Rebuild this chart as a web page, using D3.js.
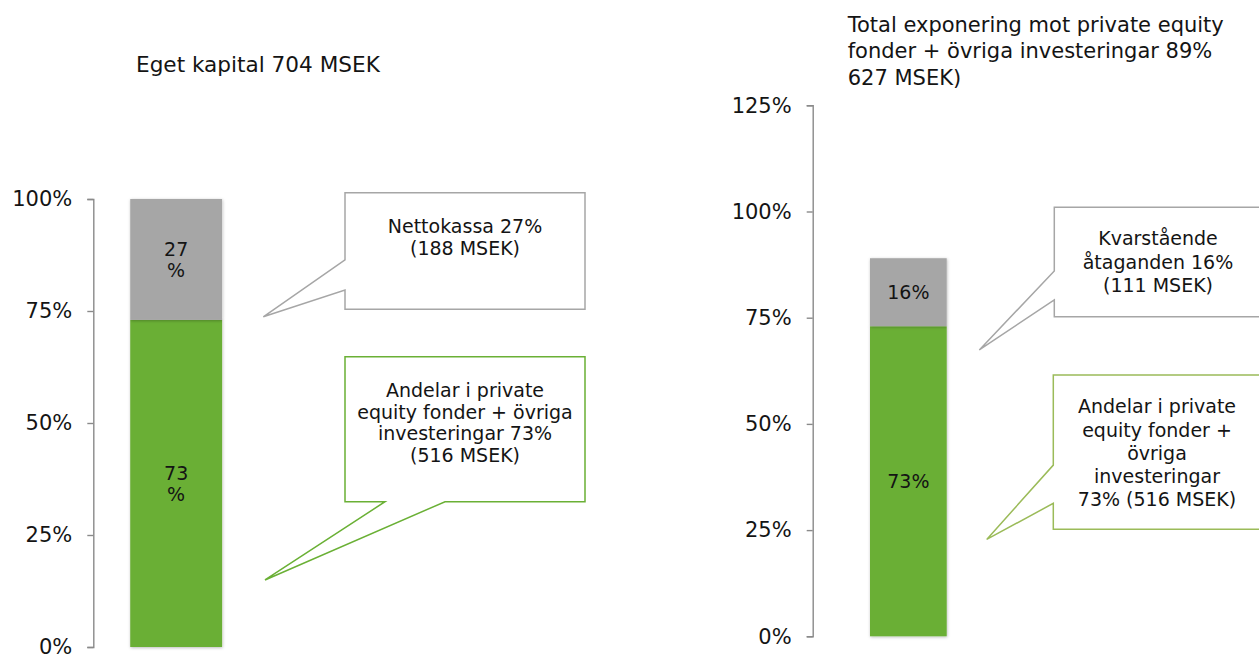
<!DOCTYPE html>
<html>
<head>
<meta charset="utf-8">
<script src="https://cdn.jsdelivr.net/npm/d3@7"></script>
<style>
  html, body { margin: 0; padding: 0; background: #ffffff; }
  svg { display: block; }
  text { font-family: "DejaVu Sans", Verdana, sans-serif; fill: #141414; }
</style>
</head>
<body>
<svg id="chart" width="1259" height="655"></svg>
<script>
// ---------------- DATA ----------------
const seriesKeys = ["investeringar", "ovrigt"];
const seriesColors = ["#6aaf35", "#a6a6a6"];

const leftCategory = ["Eget kapital"];
const leftValues = [0.73, 0.27];
const leftTicks = [0, 0.25, 0.5, 0.75, 1.0];
const leftTitle = ["Eget kapital 704 MSEK"];
const leftCalloutGray = ["Nettokassa 27%", "(188 MSEK)"];
const leftCalloutGreen = ["Andelar i private", "equity fonder + övriga", "investeringar 73%", "(516 MSEK)"];

const rightCategory = ["Total exponering"];
const rightValues = [0.73, 0.16];
const rightTicks = [0, 0.25, 0.5, 0.75, 1.0, 1.25];
const rightTitle = ["Total exponering mot private equity", "fonder + övriga investeringar 89%", "627 MSEK)"];
const rightCalloutGray = ["Kvarstående", "åtaganden 16%", "(111 MSEK)"];
const rightCalloutGreen = ["Andelar i private", "equity fonder +", "övriga", "investeringar", "73% (516 MSEK)"];

// ---------------- LAYOUT ----------------
const svg = d3.select("#chart");
const defs = svg.append("defs");
const f = defs.append("filter").attr("id", "shadow")
  .attr("x", "-20%").attr("y", "-10%").attr("width", "140%").attr("height", "120%");
f.append("feDropShadow").attr("dx", 0.5).attr("dy", 0.8).attr("stdDeviation", 1.4)
  .attr("flood-color", "#000").attr("flood-opacity", 0.28);

function drawChart(cfg) {
  const g = svg.append("g");
  const y = d3.scaleLinear().domain(cfg.yDomain).range([cfg.yBottom, cfg.yTop]);
  const x = d3.scaleBand().domain(cfg.category).range([cfg.axisX, cfg.xEnd]).padding(cfg.pad);

  // axis
  const axis = d3.axisLeft(y).tickValues(cfg.ticks).tickFormat(d3.format(".0%"))
    .tickSize(6).tickSizeOuter(6).tickPadding(15);
  const ag = g.append("g").attr("transform", `translate(${cfg.axisX},0)`).call(axis);
  ag.select(".domain").attr("stroke", "#8a8a8a").attr("stroke-width", 1.4);
  ag.selectAll(".tick line").attr("stroke", "#8a8a8a").attr("stroke-width", 1.4);
  ag.selectAll(".tick text").attr("font-size", 21).attr("fill", "#141414")
    .attr("font-family", '"DejaVu Sans", Verdana, sans-serif');

  // stacked bar
  const stackRow = {};
  seriesKeys.forEach((k, i) => stackRow[k] = cfg.values[i]);
  stackRow.cat = cfg.category[0];
  const stacked = d3.stack().keys(seriesKeys)([stackRow]);
  const bx = x(cfg.category[0]), bw = x.bandwidth();
  stacked.forEach((s, i) => {
    const d = s[0];
    g.append("rect")
      .attr("x", bx).attr("width", bw)
      .attr("y", y(d[1])).attr("height", y(d[0]) - y(d[1]))
      .attr("fill", seriesColors[i]).attr("filter", "url(#shadow)");
  });
  stacked.forEach((s, i) => {
    const d = s[0];
    const cy = (y(d[0]) + y(d[1])) / 2;
    const pct = Math.round(cfg.values[i] * 100);
    const lines = cfg.wrapLabels ? [String(pct), "%"] : [pct + "%"];
    const lh = 21;
    const t = g.append("text").attr("text-anchor", "middle").attr("font-size", 19);
    lines.forEach((ln, j) => {
      t.append("tspan").attr("x", bx + bw / 2)
        .attr("y", cy + (j - (lines.length - 1) / 2) * lh + 6.6)
        .text(ln);
    });
  });

  // title
  const tt = g.append("text").attr("font-size", cfg.titleSize);
  cfg.title.forEach((ln, j) => {
    tt.append("tspan").attr("x", cfg.titleX).attr("y", cfg.titleY + j * cfg.titleLH).text(ln);
  });

  // callouts: y in data units through scale y, x in px
  cfg.callouts.forEach(c => {
    const pts = c.pts.map(p => [p[0], y(p[1])]);
    g.append("path")
      .attr("d", d3.line()(pts) + "Z")
      .attr("fill", "#ffffff").attr("stroke", c.stroke).attr("stroke-width", 1.5)
      .attr("stroke-linejoin", "miter");
    const ct = g.append("text").attr("text-anchor", "middle").attr("font-size", 19);
    c.text.forEach((ln, j) => {
      ct.append("tspan").attr("x", c.cx).attr("y", c.ty + j * c.lh).text(ln);
    });
  });
}

// left chart
drawChart({
  category: leftCategory, values: leftValues, ticks: leftTicks,
  yDomain: [0, 1], yBottom: 647, yTop: 199,
  axisX: 93.3, xEnd: 259, pad: 0.2868, wrapLabels: true,
  title: leftTitle, titleSize: 21.6, titleX: 136, titleY: 72.3, titleLH: 26.7,
  callouts: [
    { stroke: "#a6a6a6", cx: 465, ty: 233.3, lh: 21.8, text: leftCalloutGray,
      pts: [[345, 1.014], [585, 1.014], [585, 0.754], [345, 0.754], [345, 0.797], [263.3, 0.737], [345, 0.864]] },
    { stroke: "#6ab035", cx: 465, ty: 396.7, lh: 21.8, text: leftCalloutGreen,
      pts: [[345, 0.648], [585, 0.648], [585, 0.3243], [445, 0.3243], [265, 0.1496], [385, 0.3243], [345, 0.3243]] }
  ]
});

// right chart
drawChart({
  category: rightCategory, values: rightValues, ticks: rightTicks,
  yDomain: [0, 1.25], yBottom: 636.3, yTop: 105.3,
  axisX: 812.7, xEnd: 1004, pad: 0.4276, wrapLabels: false,
  title: rightTitle, titleSize: 21, titleX: 847.7, titleY: 31.7, titleLH: 26.7,
  callouts: [
    { stroke: "#a6a6a6", cx: 1158, ty: 245, lh: 23.6, text: rightCalloutGray,
      pts: [[1054.3, 1.010], [1262, 1.010], [1262, 0.752], [1054.3, 0.752], [1054.3, 0.792], [979.3, 0.674], [1054.3, 0.860]] },
    { stroke: "#9bbb59", cx: 1157, ty: 413.3, lh: 23.2, text: rightCalloutGreen,
      pts: [[1053.3, 0.615], [1262, 0.615], [1262, 0.252], [1053.3, 0.252], [1053.3, 0.313], [986.7, 0.228], [1053.3, 0.403]] }
  ]
});
</script>
</body>
</html>
